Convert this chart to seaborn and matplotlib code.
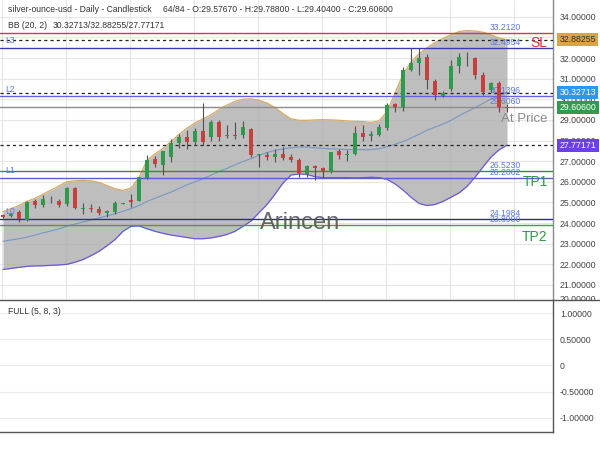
import numpy as np
import pandas as pd
import matplotlib
matplotlib.use("Agg")
import matplotlib.pyplot as plt
import seaborn as sns
from matplotlib.transforms import blended_transform_factory, Bbox, TransformedBbox
from matplotlib.lines import Line2D

# ---------------- data ----------------
opens = [24.40, 24.36, 24.55, 24.15, 25.05, 24.87, 25.10, 25.08, 24.90, 25.72,
         24.70, 24.72, 24.68, 24.47, 24.53, 24.92, 25.13, 25.08, 26.18, 27.10,
         26.83, 27.20, 27.90, 28.18, 27.91, 28.48, 28.17, 28.90, 28.22, 28.24,
         28.25, 28.56, 27.30, 27.30, 27.19, 27.35, 27.22, 27.08, 26.38, 26.78,
         26.68, 26.48, 27.47, 27.32, 27.35, 28.35, 28.20, 28.28, 28.60, 29.77,
         29.63, 31.42, 31.77, 32.05, 30.90, 30.16, 30.50, 31.60, 31.98, 32.00,
         31.18, 30.45, 30.77, 29.5767]
highs = [24.45, 24.50, 24.65, 25.05, 25.15, 25.35, 25.30, 25.15, 25.75, 25.75,
         24.95, 24.90, 24.85, 24.65, 25.05, 24.95, 25.40, 26.25, 27.30, 27.25,
         27.50, 28.05, 28.32, 28.50, 28.60, 29.80, 29.00, 29.00, 28.75, 28.90,
         28.95, 28.60, 27.35, 27.42, 27.58, 27.70, 27.35, 27.15, 26.80, 26.80,
         26.72, 27.46, 27.60, 27.55, 28.70, 28.75, 28.45, 28.80, 29.80, 29.82,
         31.55, 32.47, 32.47, 32.20, 30.98, 30.40, 31.90, 32.22, 32.30, 32.05,
         31.30, 30.85, 30.90, 29.788]
lows = [24.25, 24.30, 24.05, 24.10, 24.75, 24.80, 24.95, 24.80, 24.85, 24.70,
        24.45, 24.55, 24.40, 24.30, 24.45, 24.90, 24.80, 25.05, 26.15, 26.70,
        26.33, 26.95, 27.65, 27.60, 27.80, 27.80, 28.00, 28.00, 28.10, 28.05,
        28.10, 27.20, 26.70, 27.05, 26.98, 27.05, 26.95, 26.25, 26.22, 26.08,
        26.20, 26.45, 27.10, 27.00, 27.30, 28.00, 28.00, 28.20, 28.50, 29.38,
        29.45, 31.35, 31.20, 30.50, 29.95, 30.10, 30.40, 31.25, 31.60, 31.00,
        30.20, 30.35, 29.39, 29.404]
closes = [24.31, 24.42, 24.20, 25.03, 24.86, 25.16, 25.13, 24.88, 25.70, 24.75,
          24.72, 24.70, 24.47, 24.58, 24.97, 24.93, 25.03, 26.22, 27.07, 26.85,
          27.47, 27.88, 28.16, 27.91, 28.48, 27.92, 28.92, 28.17, 28.24, 28.22,
          28.65, 27.30, 27.32, 27.18, 27.34, 27.13, 27.05, 26.42, 26.77, 26.68,
          26.50, 27.44, 27.28, 27.36, 28.36, 28.15, 28.30, 28.66, 29.72, 29.62,
          31.42, 31.77, 32.00, 30.95, 30.20, 30.32, 31.60, 32.04, 32.00, 31.18,
          30.37, 30.77, 29.62, 29.606]
bb_upper = [24.55, 24.70, 24.85, 25.05, 25.20, 25.40, 25.60, 25.80, 26.00, 26.05,
            26.07, 26.05, 25.97, 25.82, 25.66, 25.58, 25.70, 26.20, 27.05, 27.35,
            27.62, 27.95, 28.30, 28.60, 28.85, 29.05, 29.25, 29.50, 29.72, 29.90,
            30.00, 30.02, 29.95, 29.82, 29.60, 29.30, 29.05, 28.98, 28.98, 29.00,
            29.01, 29.00, 28.98, 28.95, 28.93, 28.92, 28.88, 28.95, 29.40, 30.30,
            31.20, 31.80, 32.20, 32.50, 32.75, 32.95, 33.12, 33.28, 33.33, 33.31,
            33.25, 33.12, 32.97, 32.88255]
bb_mid = [23.12, 23.18, 23.24, 23.32, 23.42, 23.52, 23.62, 23.72, 23.85, 23.95,
          24.05, 24.15, 24.25, 24.35, 24.45, 24.57, 24.70, 24.85, 25.05, 25.20,
          25.35, 25.50, 25.68, 25.85, 26.00, 26.15, 26.32, 26.50, 26.65, 26.82,
          26.98, 27.12, 27.28, 27.42, 27.52, 27.60, 27.65, 27.68, 27.68, 27.65,
          27.62, 27.60, 27.58, 27.56, 27.56, 27.56, 27.56, 27.60, 27.70, 27.82,
          27.95, 28.12, 28.30, 28.50, 28.65, 28.80, 28.98, 29.20, 29.40, 29.60,
          29.80, 30.02, 30.15, 30.32713]
bb_lower = [21.75, 21.80, 21.85, 21.90, 21.92, 21.93, 21.95, 21.97, 22.00, 22.10,
            22.23, 22.42, 22.63, 22.90, 23.20, 23.60, 23.84, 23.86, 23.72, 23.60,
            23.50, 23.42, 23.36, 23.30, 23.24, 23.24, 23.28, 23.35, 23.45, 23.60,
            23.84, 24.10, 24.50, 24.90, 25.40, 25.94, 26.33, 26.38, 26.35, 26.25,
            26.20, 26.20, 26.20, 26.20, 26.19, 26.20, 26.22, 26.20, 26.12, 25.90,
            25.60, 25.25, 24.95, 24.85, 24.90, 25.05, 25.25, 25.46, 25.78, 26.22,
            26.72, 27.20, 27.55, 27.77171]

# price levels
level_values = [33.2120, 32.4954, 30.1396, 29.6060, 26.5230, 26.2062, 24.1984, 23.8900]
level_labels = ["33.2120", "32.4954", "30.1396", "29.6060", "26.5230", "26.2062", "24.1984", "23.8900"]
level_colors = ["#d23c3c", "#3b3bb0", "#6464e0", "#8c8c8c", "#3a8c3a", "#5c5cd8", "#2a2a9c", "#4a9a4a"]
level_tags = {"L3": 32.4954, "L2": 30.1396, "L1": 26.2062, "L0": 24.1984}
bb_last = [30.32713, 32.88255, 27.77171]   # mid / upper / lower

price_ticks = list(range(21, 35))
osc_ticks = [1.0, 0.5, 0.0, -0.5, -1.0]
osc_tick_labels = ["1.00000", "0.50000", "0", "-0.50000", "-1.00000"]

df = pd.DataFrame({"idx": np.arange(len(opens)), "open": opens, "high": highs,
                   "low": lows, "close": closes, "upper": bb_upper,
                   "mid": bb_mid, "lower": bb_lower})

# ---------------- figure ----------------
sns.set_theme(style="white")
plt.rcParams['font.family'] = ['Liberation Sans', 'DejaVu Sans']

W, H = 600, 450
fig = plt.figure(figsize=(6, 4.5), dpi=100)
ax = fig.add_axes([0, 1 - 300 / H, 553 / W, 300 / H])
ax2 = fig.add_axes([0, 1 - 432 / H, 553 / W, 132 / H])

XMIN, XMAX = -0.375, 68.75
for a in (ax, ax2):
    a.set_xlim(XMIN, XMAX)
    a.set_facecolor("white")

ax.set_ylim(20.27, 34.812)

# grid
ax.set_yticks(price_ticks)
ax.set_yticklabels([f"{v:.5f}" for v in price_ticks])
ax.set_xticks([8 * k - 0.1 for k in range(9)])
ax.grid(True, color="#e6e6e6", lw=0.8, zorder=0)
ax.set_axisbelow(True)
ax.tick_params(axis="x", length=0, labelbottom=False)
ax.tick_params(axis="y", length=0, left=False, right=False, labelleft=False,
               labelright=True, pad=5, labelsize=6.3, labelcolor="#444444")
for s in ("top", "left", "bottom"):
    ax.spines[s].set_visible(False)
ax.spines["right"].set_color("#8a8a8a")
ax.spines["right"].set_linewidth(1.0)

# Bollinger fill + lines
ax.fill_between(df["idx"], df["lower"], df["upper"], color="#b0b0b0", alpha=0.82,
                lw=0, zorder=1)
sns.lineplot(data=df, x="idx", y="upper", ax=ax, color="#dba860", lw=0.9, zorder=2, legend=False)
sns.lineplot(data=df, x="idx", y="lower", ax=ax, color="#6a5ad8", lw=0.9, zorder=2, legend=False)
sns.lineplot(data=df, x="idx", y="mid", ax=ax, color="#7898c4", lw=0.8, zorder=2, legend=False)
ax.set_xlabel("")
ax.set_ylabel("")

# dashed BB last-value lines
for v in bb_last:
    ax.axhline(v, color="#222222", lw=0.9, ls=(0, (2.5, 2.5)), zorder=3)

# level lines
for v, c in zip(level_values, level_colors):
    ax.axhline(v, color=c, lw=1.0, zorder=3)

# value labels
for v, s in zip(level_values, level_labels):
    ax.text(60.8, v + 0.05, s, ha="left", va="bottom", fontsize=6.2,
            color="#5a78e6", zorder=3)
for tag, v in level_tags.items():
    ax.text(0.25, v + 0.12, tag, ha="left", va="bottom", fontsize=6.3,
            color="#5a78e6", zorder=3)

# candles
up = df["close"] >= df["open"]
col = np.where(up, "#2f9a4c", "#c8403e")
ax.vlines(df["idx"], df["low"], df["high"], color="#505050", lw=0.8, zorder=4)
body_bot = np.minimum(df["open"], df["close"])
body_h = np.maximum(np.abs(df["close"] - df["open"]), 0.04)
ax.bar(df["idx"], body_h, bottom=body_bot, width=0.62, color=col, lw=0, zorder=5)

# annotations
ax.text(68.1, 32.71, "SL", ha="right", va="center", fontsize=10, color="#e03030", zorder=6)
ax.text(68.1, 29.02, "At Price", ha="right", va="center", fontsize=9.5, color="#8a8a8a", zorder=6)
ax.text(68.1, 25.99, "TP1", ha="right", va="center", fontsize=10, color="#2e9a44", zorder=6)
ax.text(68.1, 23.34, "TP2", ha="right", va="center", fontsize=10, color="#2e9a44", zorder=6)
ax.text(37.1, 24.0, "Arincen", ha="center", va="center", fontsize=17, color="#555555",
        alpha=0.9, zorder=6)

# right-axis value boxes
bt = blended_transform_factory(ax.transAxes, ax.transData)
boxes = [(bb_last[1], "#d9a441", "#333333"), (bb_last[0], "#3196ea", "white"),
         (closes[-1], "#2e9c4e", "white"), (bb_last[2], "#6c40e8", "white")]
for v, fc, tc in boxes:
    ax.text(1.012, v, f"{v:.5f}", transform=bt, ha="left", va="center", fontsize=6.3,
            color=tc, clip_on=False, zorder=10,
            bbox=dict(boxstyle="square,pad=0.25", fc=fc, ec="none"))

# partially visible edge labels (cut by the panel border, as in the reference)
t20 = ax.text(1.012, 20.27, "20.00000", transform=bt, ha="left", va="center",
              fontsize=6.3, color="#444444", clip_on=True)
t20.set_clip_box(TransformedBbox(Bbox([[553 / W, 1 - 300 / H], [1, 1]]), fig.transFigure))
fig.text(1.012 * 553 / W, 1 + 3.9 / H, "35.00000", ha="left", va="center",
         fontsize=6.3, color="#444444")

# ---------------- oscillator panel ----------------
ax2.set_ylim(-1.27, 1.25)
ax2.set_yticks(osc_ticks)
ax2.set_yticklabels(osc_tick_labels)
ax2.set_xticks([])
ax2.yaxis.grid(True, color="#ececec", lw=0.8)
ax2.tick_params(axis="y", length=0, left=False, right=False, labelleft=False,
                labelright=True, pad=5, labelsize=6.3, labelcolor="#444444")
ax2.spines["left"].set_visible(False)
for s in ("top", "right", "bottom"):
    ax2.spines[s].set_color("#555555")
    ax2.spines[s].set_linewidth(1.0)
fig.add_artist(Line2D([553 / W, 1], [1 - 300 / H] * 2, color="#555555", lw=1.0))
ax2.text(8 / 553, 1 - 11 / 132, "FULL (5, 8, 3)", transform=ax2.transAxes, ha="left",
         va="center", fontsize=6.2, color="#333333")

# header
fig.text(8 / W, 1 - 9 / H, "silver-ounce-usd - Daily - Candlestick", ha="left", va="center",
         fontsize=6.2, color="#333333")
fig.text(163 / W, 1 - 9 / H, "64/84 - O:29.57670 - H:29.78800 - L:29.40400 - C:29.60600",
         ha="left", va="center", fontsize=6.2, color="#333333")
fig.text(8 / W, 1 - 25 / H, "BB (20, 2)", ha="left", va="center", fontsize=6.2, color="#333333")
fig.text(53 / W, 1 - 25 / H, "30.32713/32.88255/27.77171", ha="left", va="center",
         fontsize=6.2, color="#333333")

fig.savefig("out.png", dpi=100, facecolor="white")
